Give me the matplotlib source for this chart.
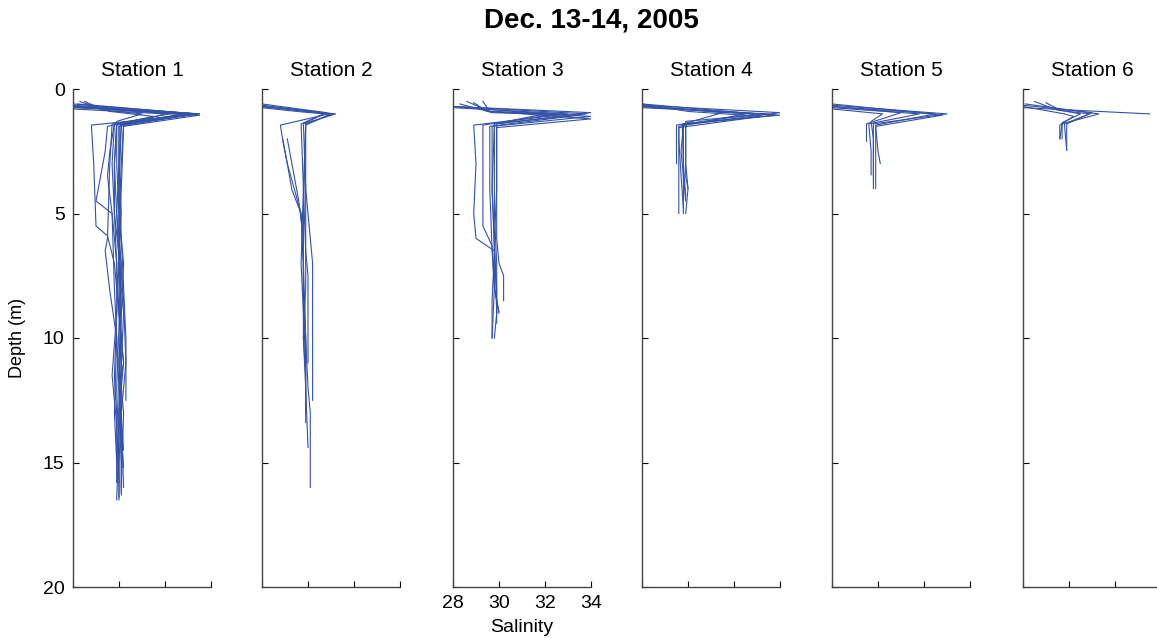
import matplotlib
matplotlib.use('Agg')
import matplotlib.pyplot as plt

plt.rcParams['font.family'] = ['Liberation Sans', 'DejaVu Sans']

stations = ['Station 1', 'Station 2', 'Station 3', 'Station 4', 'Station 5', 'Station 6']
sal_ticks = [28, 30, 32, 34]
depth_ticks = [0, 5, 10, 15, 20]

# each cast: list of (depth m, salinity)
st1 = [
    [(0.7, 28.0), (1.0, 33.5), (1.4, 29.9), (3, 29.9), (5, 30.0), (7, 30.0), (9, 30.1), (11, 30.0), (13, 30.1), (15, 30.0), (16.5, 30.0)],
    [(0.6, 28.2), (1.0, 33.3), (1.5, 30.0), (3, 30.0), (5, 29.9), (7, 30.1), (9, 30.0), (11, 30.2), (13, 30.0), (15, 30.1), (16.3, 30.1)],
    [(0.5, 28.3), (0.8, 29.2), (1.0, 32.8), (1.4, 30.2), (3, 30.1), (5, 30.0), (7, 30.2), (9, 30.1), (11, 30.0), (13, 30.2), (16.0, 30.1)],
    [(0.7, 28.0), (1.05, 33.0), (1.45, 28.8), (3, 28.9), (5.5, 29.0), (5.9, 29.5), (7, 29.8), (9, 30.0), (11, 30.1), (13, 30.0), (15.5, 29.9)],
    [(0.6, 28.6), (0.9, 29.6), (1.1, 31.5), (1.5, 29.5), (2.5, 29.4), (4.5, 29.0), (5.0, 29.7), (7, 29.9), (9, 29.9), (11.6, 29.8), (13, 29.9), (15.8, 29.9)],
    [(0.7, 28.1), (1.0, 33.4), (1.4, 29.7), (3, 29.6), (6, 29.5), (6.5, 29.4), (8.1, 29.6), (10, 29.9), (12, 30.0), (14, 30.0), (16.5, 29.9)],
    [(0.75, 28.0), (1.0, 33.2), (1.35, 30.1), (4, 30.0), (6, 30.1), (8, 30.2), (10, 30.3), (12.5, 30.3)],
    [(0.7, 28.0), (0.95, 32.5), (1.4, 29.8), (3, 29.7), (5, 29.8), (7, 29.9), (9, 30.0), (11, 30.2), (12, 30.0), (14, 30.1), (15.2, 30.2)],
    [(0.5, 28.5), (0.85, 29.4), (1.0, 31.0), (1.3, 29.9), (3, 29.8), (5, 29.9), (7, 30.0), (9, 29.9), (11.5, 29.7), (13.5, 29.9), (15.8, 30.0)],
    [(0.65, 28.0), (1.0, 33.5), (1.45, 30.1), (3, 30.0), (5, 30.1), (7, 30.0), (9, 30.2), (11, 30.1), (14, 30.1), (16.2, 30.1)],
    [(0.7, 28.0), (1.0, 33.0), (1.4, 29.8), (2.5, 29.6), (3.5, 29.5), (5, 29.7), (8, 29.8), (10, 29.9), (13, 29.8), (15, 29.9)],
    [(0.8, 28.0), (1.0, 32.0), (1.5, 30.0), (4, 30.0), (7, 30.0), (10, 30.1), (12, 30.0), (14.5, 30.2)],
    [(0.6, 28.0), (1.0, 33.4), (1.45, 29.9), (3, 29.8), (5, 29.8), (7.5, 30.1), (9.5, 30.0), (12, 29.9), (14.8, 30.0), (16.4, 30.0)],
    [(0.7, 28.0), (1.05, 33.5), (1.5, 30.2), (4, 30.1), (6, 30.0), (8.5, 30.2), (11, 30.3), (13, 30.1), (16.0, 30.2)],
]

st2 = [
    [(0.7, 28.0), (1.0, 31.2), (1.4, 29.8), (4, 29.9), (6, 30.1), (7.0, 30.2), (12.5, 30.2)],
    [(0.7, 28.0), (1.0, 31.0), (1.45, 29.9), (4, 29.8), (6.5, 29.9), (7.5, 30.0), (11.0, 30.0)],
    [(0.6, 28.0), (0.95, 30.8), (1.4, 29.7), (4, 29.8), (7, 29.7), (9, 29.8), (11, 29.9), (13.4, 29.9)],
    [(0.7, 28.0), (1.0, 30.9), (1.45, 28.8), (2.05, 28.9), (3, 29.1), (4.05, 29.3), (5, 29.7), (7, 29.8), (10, 29.8), (12, 29.9), (14.4, 30.0)],
    [(0.65, 28.0), (1.0, 31.1), (1.4, 29.9), (5, 29.8), (8, 29.8), (10, 29.9), (12, 30.0), (13, 30.1), (16.0, 30.1)],
    [(2.0, 28.9), (3, 29.1), (4, 29.4), (5, 29.7), (7, 29.8), (10, 29.9), (13, 29.9)],
    [(2.0, 29.1), (3, 29.3), (4.5, 29.6), (6, 29.8), (8, 29.8), (10.5, 29.9)],
    [(0.75, 28.0), (0.9, 29.5), (1.0, 30.7), (1.35, 29.9), (4, 29.9), (8, 29.9), (10, 29.8), (11.5, 29.9)],
]

st3 = [
    [(0.7, 28.0), (0.95, 34.0), (1.4, 29.8), (3, 29.8), (5, 29.8), (7, 29.9), (9, 29.9), (10.0, 29.8)],
    [(0.5, 28.6), (0.9, 29.6), (1.1, 34.0), (1.5, 29.7), (4, 29.7), (6, 29.8), (8, 29.8), (10, 29.7)],
    [(0.75, 28.0), (1.0, 33.0), (1.45, 28.9), (3, 29.0), (5, 28.9), (6, 29.0), (6.5, 29.8), (8, 29.9), (9.4, 29.9)],
    [(0.55, 28.9), (0.9, 29.5), (1.0, 32.5), (1.45, 29.3), (3, 29.3), (5.5, 29.3), (6.3, 29.7), (8, 29.8), (9.0, 30.0)],
    [(0.7, 28.0), (1.0, 33.8), (1.4, 29.9), (4, 29.9), (6, 29.9), (7.0, 30.0), (7.5, 30.2), (8.5, 30.2)],
    [(0.6, 28.3), (0.95, 29.7), (1.05, 33.5), (1.5, 29.6), (4, 29.6), (6.5, 29.7), (8, 29.8), (8.95, 30.0)],
    [(0.7, 28.0), (1.0, 32.0), (1.4, 29.8), (4, 29.7), (6.5, 29.8), (8.5, 29.7), (10.0, 29.7)],
    [(0.5, 29.3), (0.9, 29.6), (1.2, 34.0), (1.55, 29.9), (4, 29.9), (6, 29.8), (9, 29.9)],
]

st4 = [
    [(0.65, 28.0), (0.95, 34.0), (1.45, 29.8), (3, 29.8), (5.0, 29.8)],
    [(0.7, 28.0), (1.05, 34.0), (1.4, 29.9), (3, 29.9), (4, 30.0), (5.0, 29.9)],
    [(0.6, 28.0), (1.0, 33.0), (1.45, 29.5), (3.0, 29.5)],
    [(0.7, 28.0), (1.0, 32.5), (1.5, 29.6), (3, 29.6), (5.0, 29.6)],
    [(0.75, 28.0), (1.0, 33.5), (1.3, 29.9), (3.5, 29.9), (4.0, 30.0)],
    [(0.65, 28.0), (0.95, 31.5), (1.4, 29.8), (2.5, 29.7), (4.5, 29.9)],
    [(0.7, 28.0), (1.05, 33.8), (1.4, 29.75), (3, 29.8), (4.3, 29.9)],
    [(0.6, 28.0), (0.9, 30.0), (1.1, 33.2), (1.55, 29.6), (2.0, 29.6), (3.5, 29.7), (4.8, 29.8)],
]

st5 = [
    [(0.65, 28.0), (1.0, 33.0), (1.4, 29.8), (3, 29.8), (4.0, 29.8)],
    [(0.7, 28.0), (1.0, 32.5), (1.45, 29.9), (3, 29.9), (4.0, 29.9)],
    [(0.75, 28.0), (1.0, 31.8), (1.4, 29.6), (2.5, 29.7), (3.45, 29.7)],
    [(0.6, 28.0), (1.05, 32.8), (1.5, 29.9), (2.5, 30.0), (3.0, 30.1)],
    [(0.7, 28.0), (0.95, 31.0), (1.4, 29.5), (2.1, 29.5)],
    [(0.8, 28.0), (1.0, 30.2), (1.3, 29.7), (2.0, 29.8), (3.5, 29.8)],
]

st6 = [
    [(0.75, 28.0), (1.0, 33.5)],
    [(0.6, 28.1), (1.0, 31.3), (1.4, 29.7), (2.0, 29.6)],
    [(0.5, 28.5), (0.85, 29.5), (1.0, 30.9), (1.4, 29.8), (2.45, 29.9)],
    [(0.55, 29.0), (0.85, 29.6), (1.0, 30.5), (1.35, 29.7), (2.0, 29.7)],
    [(0.7, 28.0), (1.0, 29.8), (1.1, 30.2), (1.45, 29.6), (2.0, 29.6)],
    [(0.65, 28.0), (0.95, 31.0), (1.4, 29.9), (2.45, 29.9)],
]

casts = [st1, st2, st3, st4, st5, st6]

W, H = 1157, 638
fig = plt.figure(figsize=(W / 100, H / 100), dpi=100)
lefts = [73, 262, 453, 642, 832, 1023]
line_color = '#3352a8'

for i, (name, station) in enumerate(zip(stations, casts)):
    ax = fig.add_axes([lefts[i] / W, (H - 587) / H, 138 / W, (587 - 89) / H])
    for cast in station:
        d = [p[0] for p in cast]
        s = [p[1] for p in cast]
        ax.plot(s, d, color=line_color, lw=0.8)
    ax.set_xlim(28, 34)
    ax.set_ylim(20, 0)
    ax.set_xticks(sal_ticks)
    ax.set_yticks(depth_ticks)
    ax.tick_params(direction='in', length=4, width=0.8, labelsize=14, pad=6)
    ax.spines['top'].set_visible(False)
    ax.spines['right'].set_visible(False)
    for sp in ['left', 'bottom']:
        ax.spines[sp].set_linewidth(1.0)
        ax.spines[sp].set_color('#444444')
    ax.set_title(name, fontsize=15, pad=9)
    if i != 2:
        ax.set_xticklabels([])
    else:
        ax.set_xlabel('Salinity', fontsize=14, labelpad=5)
    if i != 0:
        ax.set_yticklabels([])
    else:
        ax.set_ylabel('Depth (m)', fontsize=13, labelpad=12)

fig.text(591 / W, 1 - 20 / H, 'Dec. 13-14, 2005', ha='center', va='center',
         fontsize=20, fontweight='bold')

fig.savefig('out.png', dpi=100)
